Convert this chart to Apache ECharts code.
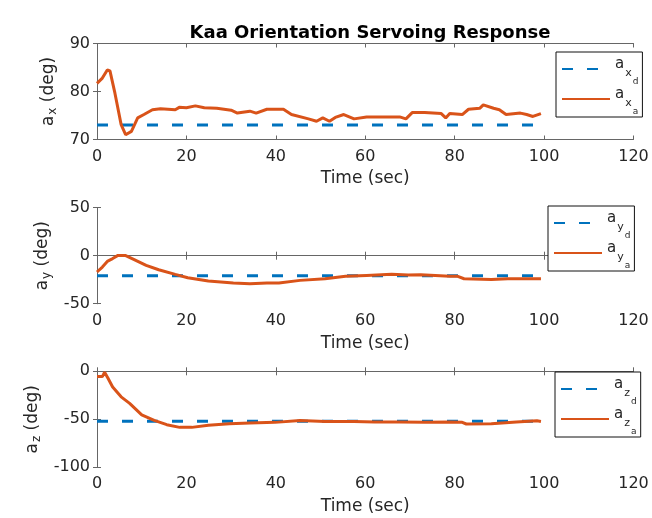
<!DOCTYPE html>
<html>
<head>
<meta charset="utf-8">
<script src="https://cdn.jsdelivr.net/npm/echarts@6/dist/echarts.min.js"></script>
<style>
  html, body { margin: 0; padding: 0; background: #fff; }
  #main { width: 652px; height: 518px; }
</style>
</head>
<body>
<div id="main"></div>
<script>
// time ticks and axis ranges
var timeTicks = [0, 20, 40, 60, 80, 100, 120];
var yRanges = [[70, 90, 10], [-50, 50, 50], [-100, 0, 50]];

// desired (constant) values over 0..100 s
var desiredTime = [0, 100];
var axDesired = [73, 73];
var ayDesired = [-21, -21];
var azDesired = [-52, -52];

// actual responses
var axTime = [0, 1.2, 2.3, 2.9, 4, 5.4, 6.4, 7.7, 9.1, 10.5, 12.4, 14.2, 17.5, 18.4, 20, 22, 24, 26.8, 30, 31.4, 34.2, 35.6, 38, 41.7, 43.5, 47.3, 49.1, 50.5, 52, 53.3, 55.2, 57.5, 60.3, 64, 67.7, 69.1, 70.5, 73.3, 77, 78, 78.9, 81.7, 83.1, 85.6, 86.4, 88.7, 90, 91.5, 94.7, 96.1, 97.5, 99.3];
var axActual = [81.7, 82.8, 84.5, 84.3, 79.7, 73.1, 71.0, 71.7, 74.5, 75.2, 76.2, 76.4, 76.2, 76.7, 76.6, 77.0, 76.6, 76.5, 76.1, 75.5, 75.9, 75.5, 76.3, 76.3, 75.2, 74.3, 73.8, 74.5, 73.8, 74.6, 75.2, 74.3, 74.7, 74.7, 74.7, 74.3, 75.6, 75.6, 75.4, 74.5, 75.4, 75.2, 76.3, 76.5, 77.2, 76.5, 76.2, 75.2, 75.5, 75.2, 74.8, 75.4];

var ayTime = [0, 1.2, 2.4, 3.5, 4.7, 6.3, 8.2, 11, 13.8, 17.5, 20.3, 24.9, 30.5, 34.2, 38, 40.7, 45.4, 51, 55.6, 60.3, 65.9, 69.6, 72.4, 78.9, 80.7, 82.1, 88.2, 91.9, 99.3];
var ayActual = [-17, -11.8, -5.6, -3, 0.3, 0.3, -3.8, -10, -14.6, -19.4, -23, -26.4, -28.5, -29.2, -28.5, -28.5, -25.7, -24, -21.5, -20.5, -19.4, -20.1, -19.8, -21.5, -21.5, -24, -24.7, -24, -24];

var azTime = [0, 1.2, 1.7, 2.4, 3.5, 5.4, 7.3, 10, 12.8, 15.6, 18.5, 21.2, 24.9, 29.6, 34.2, 39.8, 45.4, 51, 57.5, 62.1, 67.7, 73.3, 78.9, 81.7, 82.6, 88.2, 93.8, 98.4, 99.3];
var azActual = [-5.5, -5.5, -1, -6.8, -16.4, -26.6, -33.4, -45.4, -51.2, -55.6, -58.4, -58.4, -56.3, -54.6, -53.9, -53.2, -51.2, -52.2, -52.2, -52.9, -52.9, -53.2, -52.9, -53.2, -54.9, -54.6, -52.9, -51.5, -52.2];

var blue = '#0072BD', orange = '#D95319', ink = '#262626', boxGray = '#666';
var font = 'DejaVu Sans';

var pairs = function (xs, ys) {
    return xs.map(function (x, i) { return [x, ys[i]]; });
};

var panels = [
    {axis: 'x', time: axTime, actual: axActual, desired: axDesired, top: 43.5, legend: [556, 52]},
    {axis: 'y', time: ayTime, actual: ayActual, desired: ayDesired, top: 207.7, legend: [548, 206]},
    {axis: 'z', time: azTime, actual: azActual, desired: azDesired, top: 371.3, legend: [555, 372]}
];

// axis names: a with one subscript
var nameRich = {
    d: {fontSize: 17, fontFamily: font, color: ink, lineHeight: 20, verticalAlign: 'top'},
    s: {fontSize: 12, fontFamily: font, color: ink, lineHeight: 14, verticalAlign: 'top', padding: [7, 0, 0, 1]}
};
// legend names: a with a subscript carrying its own subscript
var legendRich = {
    a: {fontSize: 15, fontFamily: font, color: ink, lineHeight: 18, verticalAlign: 'top'},
    s: {fontSize: 11, fontFamily: font, color: ink, lineHeight: 14, verticalAlign: 'top', padding: [11, 0, 0, 1]},
    ss: {fontSize: 9, fontFamily: font, color: ink, lineHeight: 12, verticalAlign: 'top', padding: [20, 0, 0, 1]}
};

var grid = [], xAxis = [], yAxis = [], series = [], legend = [];
var boxLine = {show: true, lineStyle: {color: boxGray, width: 1}};
var inTick = {show: true, inside: true, length: 4, lineStyle: {color: boxGray}};

panels.forEach(function (p, i) {
    grid.push({left: 97, top: p.top, width: 536.5, height: 96});
    var r = yRanges[i];
    xAxis.push({
        type: 'value', gridIndex: i, min: 0, max: 120, interval: 20,
        axisLine: boxLine, axisTick: inTick, splitLine: {show: false},
        axisLabel: {color: ink, fontSize: 16, fontFamily: font, margin: 9},
        name: 'Time (sec)', nameLocation: 'middle', nameGap: 31,
        nameTextStyle: {color: ink, fontSize: 17, fontFamily: font}
    });
    xAxis.push({
        type: 'value', gridIndex: i, min: 0, max: 120, interval: 20, position: 'top',
        axisLine: boxLine, axisTick: inTick, axisLabel: {show: false}, splitLine: {show: false}
    });
    yAxis.push({
        type: 'value', gridIndex: i, min: r[0], max: r[1], interval: r[2],
        axisLine: boxLine, axisTick: inTick, splitLine: {show: false},
        axisLabel: {color: ink, fontSize: 16, fontFamily: font, margin: 7},
        name: '{d|a}{s|' + p.axis + '}{d| (deg)}', nameLocation: 'middle', nameGap: 32, nameRotate: 90,
        nameTextStyle: {rich: nameRich}
    });
    yAxis.push({
        type: 'value', gridIndex: i, min: r[0], max: r[1], interval: r[2], position: 'right',
        axisLine: boxLine, axisTick: inTick, axisLabel: {show: false}, splitLine: {show: false}
    });
    var dName = 'a' + p.axis + 'd', aName = 'a' + p.axis + 'a';
    series.push({
        name: dName, type: 'line', xAxisIndex: 2 * i, yAxisIndex: 2 * i,
        data: pairs(desiredTime, p.desired), symbol: 'none', animation: false,
        lineStyle: {color: blue, width: 3, type: [11, 14]}, itemStyle: {color: blue}
    });
    series.push({
        name: aName, type: 'line', xAxisIndex: 2 * i, yAxisIndex: 2 * i,
        data: pairs(p.time, p.actual), symbol: 'none', animation: false,
        lineStyle: {color: orange, width: 3}, itemStyle: {color: orange}
    });
    legend.push({
        data: [dName, aName], orient: 'vertical', left: p.legend[0], top: p.legend[1],
        itemWidth: 48, itemHeight: 14, itemGap: 1,
        padding: [5, 4, 1, 5], backgroundColor: '#fff', borderColor: '#111', borderWidth: 1,
        selectedMode: false,
        itemStyle: {color: 'rgba(0,0,0,0)', borderWidth: 0},
        formatter: function (name) {
            return '{a|a}{s|' + name.charAt(1) + '}{ss|' + name.charAt(2) + '}';
        },
        textStyle: {rich: legendRich, padding: [0, 0, 6, 0]}
    });
});

var myChart = echarts.init(document.getElementById('main'), null, {renderer: 'canvas'});
myChart.setOption({
    backgroundColor: '#fff',
    animation: false,
    title: {
        text: 'Kaa Orientation Servoing Response', left: 365, top: 19, textAlign: 'center',
        textStyle: {color: '#000', fontSize: 18, fontWeight: 'bold', fontFamily: font}
    },
    grid: grid,
    xAxis: xAxis,
    yAxis: yAxis,
    legend: legend,
    series: series
});
</script>
</body>
</html>
